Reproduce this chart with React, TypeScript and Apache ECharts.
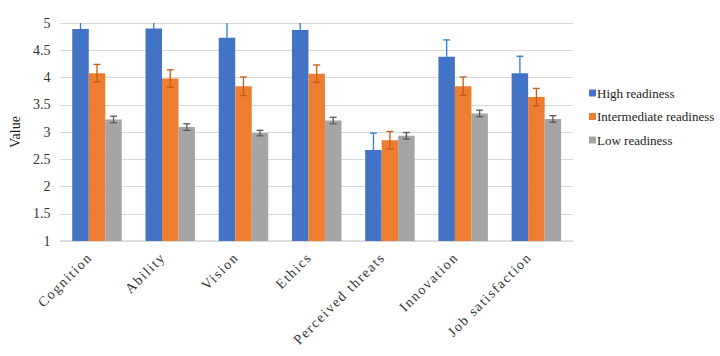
import React, { useEffect, useRef } from "react";
import * as echarts from "echarts";

const categories = ["Cognition", "Ability", "Vision", "Ethics", "Perceived threats", "Innovation", "Job satisfaction"];
const seriesNames = ["High readiness", "Intermediate readiness", "Low readiness"];
const highValues = [4.89, 4.9, 4.73, 4.87, 2.67, 4.38, 4.08];
const intermediateValues = [4.08, 3.98, 3.84, 4.07, 2.85, 3.84, 3.64];
const lowValues = [3.23, 3.09, 2.98, 3.21, 2.93, 3.34, 3.24];
const highErrors = [0.3, 0.3, 0.32, 0.32, 0.31, 0.31, 0.31];
const intermediateErrors = [0.16, 0.16, 0.17, 0.16, 0.16, 0.17, 0.16];
const lowErrors = [0.06, 0.06, 0.05, 0.06, 0.06, 0.06, 0.06];

const FONT = "Liberation Serif";
const barColors = ["#4472C4", "#ED7D31", "#A5A5A5"];
const errColors = ["#2E7BD6", "#C55A11", "#595959"];
const BAR_W = 16.5;
const XLABEL_COLOR = "#333334";

export default function App() {
  const ref = useRef<HTMLDivElement>(null);
  useEffect(() => {
    if (!ref.current) return;
    const chart = echarts.init(ref.current, undefined, { renderer: "svg" });
    const values = [highValues, intermediateValues, lowValues];
    const errors = [highErrors, intermediateErrors, lowErrors];

    const barSeries = values.map((v, i) => ({
      name: seriesNames[i],
      type: "bar",
      data: v,
      barWidth: BAR_W,
      barGap: "0%",
      itemStyle: { color: barColors[i] },
      z: 2,
    }));

    const errSeries = values.map((v, si) => ({
      type: "custom",
      name: seriesNames[si] + " error",
      clip: true,
      z: 5,
      data: v.map((val, i) => [i, val - errors[si][i], val + errors[si][i]]),
      renderItem: (params: any, api: any) => {
        const idx = api.value(0);
        const lo = api.coord([idx, api.value(1)]);
        const hi = api.coord([idx, api.value(2)]);
        const x = lo[0] + (si - 1) * BAR_W;
        const cap = 3.5;
        const style = { stroke: errColors[si], lineWidth: 1.3 };
        return {
          type: "group",
          children: [
            { type: "line", shape: { x1: x, y1: lo[1], x2: x, y2: hi[1] }, style },
            { type: "line", shape: { x1: x - cap, y1: lo[1], x2: x + cap, y2: lo[1] }, style },
            { type: "line", shape: { x1: x - cap, y1: hi[1], x2: x + cap, y2: hi[1] }, style },
          ],
        };
      },
      encode: { x: 0, y: [1, 2] },
      silent: true,
    }));

    chart.setOption({
      animation: false,
      textStyle: { fontFamily: FONT },
      grid: { left: 54, right: 147, top: 23, bottom: 115, containLabel: false },
      legend: {
        orient: "vertical",
        left: 589,
        top: 85,
        padding: 0,
        itemWidth: 7,
        itemHeight: 7,
        itemGap: 7.5,
        icon: "rect",
        data: seriesNames,
        textStyle: { fontFamily: FONT, fontSize: 13, lineHeight: 16, color: "#222", padding: [0, 0, 0, -4] },
      },
      xAxis: {
        type: "category",
        data: categories,
        axisLine: { lineStyle: { color: "#D9D9D9", width: 1.5 } },
        axisTick: { show: false },
        axisLabel: {
          rotate: 45,
          margin: 7,
          padding: [0, 10, 0, 0],
          interval: 0,
          fontFamily: FONT,
          fontSize: 14,
          color: XLABEL_COLOR,
        },
      },
      yAxis: {
        type: "value",
        min: 1,
        max: 5,
        interval: 0.5,
        name: "Value",
        nameLocation: "middle",
        nameGap: 38,
        nameTextStyle: { fontFamily: FONT, fontSize: 14, color: "#222" },
        axisLine: { show: false },
        axisTick: { show: false },
        axisLabel: { fontFamily: FONT, fontSize: 14, color: "#333", margin: 10 },
        splitLine: { lineStyle: { color: "#D9D9D9", width: 1.2 } },
      },
      series: [...barSeries, ...errSeries],
    });
    return () => chart.dispose();
  }, []);

  return (
    <div style={{ position: "fixed", left: 0, top: 0, width: 720, height: 356, background: "#fff" }}>
      <style>{`
        .chartbox svg text[fill="${XLABEL_COLOR}"] { letter-spacing: 1.6px; }
      `}</style>
      <div className="chartbox" ref={ref} style={{ width: 720, height: 356 }} />
    </div>
  );
}
